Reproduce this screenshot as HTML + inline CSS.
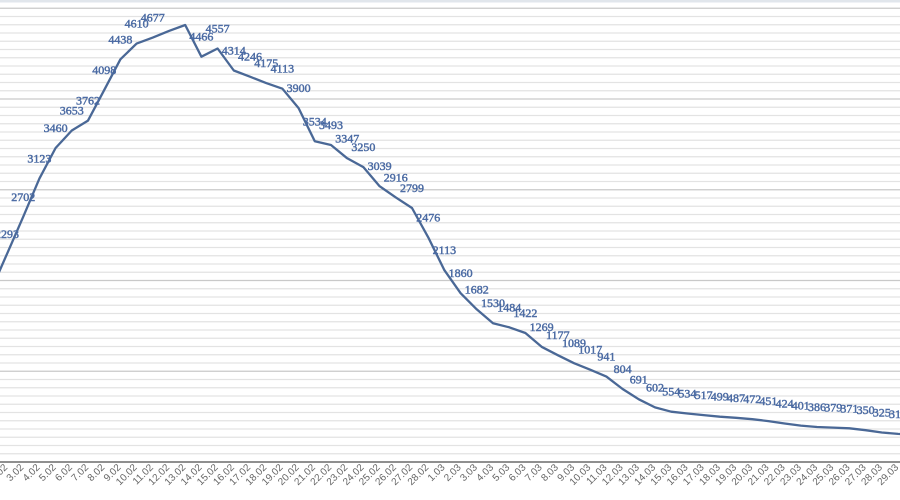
<!DOCTYPE html>
<html><head><meta charset="utf-8"><style>
html,body{margin:0;padding:0;background:#fff;}
svg{display:block;}
.dl{font-family:"Liberation Serif",serif;font-weight:normal;font-size:12px;fill:#4a6aa3;text-anchor:middle;stroke:#4a6aa3;stroke-width:0.45;}
.ax{font-family:"Liberation Sans",sans-serif;font-size:10px;fill:#666;text-anchor:end;}
</style></head><body>
<svg width="900" height="500" viewBox="0 0 900 500" xmlns="http://www.w3.org/2000/svg">
<rect x="0" y="0" width="900" height="500" fill="#fff"/>
<rect x="0" y="0" width="900" height="2.5" fill="#e1e6ec"/>
<path stroke="#e3e3e3" stroke-width="1.2" fill="none" d="M0 453.75H900M0 445.5H900M0 437.25H900M0 429H900M0 420.75H900M0 412.5H900M0 404.25H900M0 396H900M0 387.75H900M0 379.5H900M0 363H900M0 354.75H900M0 346.5H900M0 338.25H900M0 330H900M0 321.75H900M0 313.5H900M0 305.25H900M0 297H900M0 288.75H900M0 272.25H900M0 264H900M0 255.75H900M0 247.5H900M0 239.25H900M0 231H900M0 222.75H900M0 214.5H900M0 206.25H900M0 198H900M0 181.5H900M0 173.25H900M0 165H900M0 156.75H900M0 148.5H900M0 140.25H900M0 132H900M0 123.75H900M0 115.5H900M0 107.25H900M0 90.75H900M0 82.5H900M0 74.25H900M0 66H900M0 57.75H900M0 49.5H900M0 41.25H900M0 33H900M0 24.75H900M0 16.5H900"/>
<path stroke="#c9c9c9" stroke-width="1.3" fill="none" d="M0 371.25H900M0 280.5H900M0 189.75H900M0 99H900M0 8.25H900"/>
<line x1="0" y1="462" x2="900" y2="462" stroke="#6a6a6a" stroke-width="1.4"/>
<polyline fill="none" stroke="#4a6896" stroke-width="2.3" stroke-linejoin="round" stroke-linecap="round" points="-9.2,291 7,253.9 23.2,216.8 39.4,178.6 55.6,148 71.8,130.5 88,120.6 104.2,90.1 120.4,59.3 136.6,43.6 152.8,37.6 169,30.9 185.2,25 201.4,56.7 217.6,48.5 233.8,70.5 250,76.7 266.2,83.1 282.4,88.7 298.6,108.1 314.8,141.3 331,145 347.2,158.3 363.4,167.1 379.6,186.2 395.8,197.4 412,208 428.2,237.3 444.4,270.2 460.6,293.2 476.8,309.4 493,323.2 509.2,327.3 525.4,333 541.6,346.8 557.8,355.2 574,363.2 590.2,369.7 606.4,376.6 622.6,389 638.8,399.3 655,407.4 671.2,411.7 687.4,413.5 703.6,415.1 719.8,416.7 736,417.8 752.2,419.2 768.4,421.1 784.6,423.5 800.8,425.6 817,427 833.2,427.6 849.4,428.3 865.6,430.2 881.8,432.5 898,433.9 914,434.5"/>
<g class="dl">
<text x="7" y="237.9">2293</text>
<text x="23.2" y="200.8">2702</text>
<text x="39.4" y="162.6">3123</text>
<text x="55.6" y="132">3460</text>
<text x="71.8" y="114.5">3653</text>
<text x="88" y="104.6">3762</text>
<text x="104.2" y="74.1">4098</text>
<text x="120.4" y="43.3">4438</text>
<text x="136.6" y="27.6">4610</text>
<text x="152.8" y="21.6">4677</text>
<text x="201.4" y="40.7">4466</text>
<text x="217.6" y="32.5">4557</text>
<text x="233.8" y="54.5">4314</text>
<text x="250" y="60.7">4246</text>
<text x="266.2" y="67.1">4175</text>
<text x="282.4" y="72.7">4113</text>
<text x="298.6" y="92.1">3900</text>
<text x="314.8" y="125.3">3534</text>
<text x="331" y="129">3493</text>
<text x="347.2" y="142.3">3347</text>
<text x="363.4" y="151.1">3250</text>
<text x="379.6" y="170.2">3039</text>
<text x="395.8" y="181.4">2916</text>
<text x="412" y="192">2799</text>
<text x="428.2" y="221.3">2476</text>
<text x="444.4" y="254.2">2113</text>
<text x="460.6" y="277.2">1860</text>
<text x="476.8" y="293.4">1682</text>
<text x="493" y="307.2">1530</text>
<text x="509.2" y="311.3">1484</text>
<text x="525.4" y="317">1422</text>
<text x="541.6" y="330.8">1269</text>
<text x="557.8" y="339.2">1177</text>
<text x="574" y="347.2">1089</text>
<text x="590.2" y="353.7">1017</text>
<text x="606.4" y="360.6">941</text>
<text x="622.6" y="373">804</text>
<text x="638.8" y="383.3">691</text>
<text x="655" y="391.4">602</text>
<text x="671.2" y="395.7">554</text>
<text x="687.4" y="397.5">534</text>
<text x="703.6" y="399.1">517</text>
<text x="719.8" y="400.7">499</text>
<text x="736" y="401.8">487</text>
<text x="752.2" y="403.2">472</text>
<text x="768.4" y="405.1">451</text>
<text x="784.6" y="407.5">424</text>
<text x="800.8" y="409.6">401</text>
<text x="817" y="411">386</text>
<text x="833.2" y="411.6">379</text>
<text x="849.4" y="412.3">371</text>
<text x="865.6" y="414.2">350</text>
<text x="881.8" y="416.5">325</text>
<text x="898" y="417.9">310</text>
</g>
<g class="ax">
<text transform="translate(8,468) rotate(-45)">2.02</text>
<text transform="translate(24.2,468) rotate(-45)">3.02</text>
<text transform="translate(40.4,468) rotate(-45)">4.02</text>
<text transform="translate(56.6,468) rotate(-45)">5.02</text>
<text transform="translate(72.8,468) rotate(-45)">6.02</text>
<text transform="translate(89,468) rotate(-45)">7.02</text>
<text transform="translate(105.2,468) rotate(-45)">8.02</text>
<text transform="translate(121.4,468) rotate(-45)">9.02</text>
<text transform="translate(137.6,468) rotate(-45)">10.02</text>
<text transform="translate(153.8,468) rotate(-45)">11.02</text>
<text transform="translate(170,468) rotate(-45)">12.02</text>
<text transform="translate(186.2,468) rotate(-45)">13.02</text>
<text transform="translate(202.4,468) rotate(-45)">14.02</text>
<text transform="translate(218.6,468) rotate(-45)">15.02</text>
<text transform="translate(234.8,468) rotate(-45)">16.02</text>
<text transform="translate(251,468) rotate(-45)">17.02</text>
<text transform="translate(267.2,468) rotate(-45)">18.02</text>
<text transform="translate(283.4,468) rotate(-45)">19.02</text>
<text transform="translate(299.6,468) rotate(-45)">20.02</text>
<text transform="translate(315.8,468) rotate(-45)">21.02</text>
<text transform="translate(332,468) rotate(-45)">22.02</text>
<text transform="translate(348.2,468) rotate(-45)">23.02</text>
<text transform="translate(364.4,468) rotate(-45)">24.02</text>
<text transform="translate(380.6,468) rotate(-45)">25.02</text>
<text transform="translate(396.8,468) rotate(-45)">26.02</text>
<text transform="translate(413,468) rotate(-45)">27.02</text>
<text transform="translate(429.2,468) rotate(-45)">28.02</text>
<text transform="translate(445.4,468) rotate(-45)">1.03</text>
<text transform="translate(461.6,468) rotate(-45)">2.03</text>
<text transform="translate(477.8,468) rotate(-45)">3.03</text>
<text transform="translate(494,468) rotate(-45)">4.03</text>
<text transform="translate(510.2,468) rotate(-45)">5.03</text>
<text transform="translate(526.4,468) rotate(-45)">6.03</text>
<text transform="translate(542.6,468) rotate(-45)">7.03</text>
<text transform="translate(558.8,468) rotate(-45)">8.03</text>
<text transform="translate(575,468) rotate(-45)">9.03</text>
<text transform="translate(591.2,468) rotate(-45)">10.03</text>
<text transform="translate(607.4,468) rotate(-45)">11.03</text>
<text transform="translate(623.6,468) rotate(-45)">12.03</text>
<text transform="translate(639.8,468) rotate(-45)">13.03</text>
<text transform="translate(656,468) rotate(-45)">14.03</text>
<text transform="translate(672.2,468) rotate(-45)">15.03</text>
<text transform="translate(688.4,468) rotate(-45)">16.03</text>
<text transform="translate(704.6,468) rotate(-45)">17.03</text>
<text transform="translate(720.8,468) rotate(-45)">18.03</text>
<text transform="translate(737,468) rotate(-45)">19.03</text>
<text transform="translate(753.2,468) rotate(-45)">20.03</text>
<text transform="translate(769.4,468) rotate(-45)">21.03</text>
<text transform="translate(785.6,468) rotate(-45)">22.03</text>
<text transform="translate(801.8,468) rotate(-45)">23.03</text>
<text transform="translate(818,468) rotate(-45)">24.03</text>
<text transform="translate(834.2,468) rotate(-45)">25.03</text>
<text transform="translate(850.4,468) rotate(-45)">26.03</text>
<text transform="translate(866.6,468) rotate(-45)">27.03</text>
<text transform="translate(882.8,468) rotate(-45)">28.03</text>
<text transform="translate(899,468) rotate(-45)">29.03</text>
</g>
</svg>
</body></html>
